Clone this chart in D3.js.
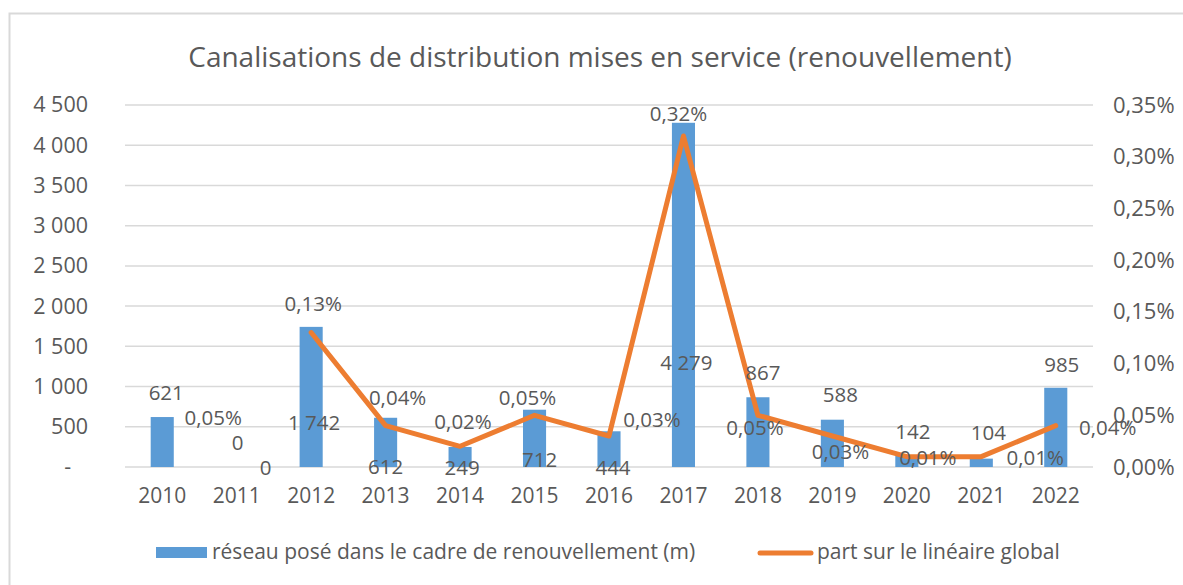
<!DOCTYPE html>
<html>
<head>
<meta charset="utf-8">
<script src="https://cdn.jsdelivr.net/npm/d3@7"></script>
<style>
  body { margin: 0; background: #fff; }
  svg text { font-family: "Open Sans", sans-serif; fill: #595959; }
</style>
</head>
<body>
<div id="chart"></div>
<script>
const years = ['2010', '2011', '2012', '2013', '2014', '2015', '2016', '2017', '2018', '2019', '2020', '2021', '2022'];
const networkLength = [621, 0, 1742, 612, 249, 712, 444, 4279, 867, 588, 142, 104, 985];
// part sur le linéaire global, in % (2010 and 2011 are not joined by the line)
const shareValues = [0.05, 0, 0.13, 0.04, 0.02, 0.05, 0.03, 0.32, 0.05, 0.03, 0.01, 0.01, 0.04];
const shareDrawn = [false, false, true, true, true, true, true, true, true, true, true, true, true];
const leftTicks = [0, 500, 1000, 1500, 2000, 2500, 3000, 3500, 4000, 4500];
const rightTicks = [0, 0.05, 0.10, 0.15, 0.20, 0.25, 0.30, 0.35];

const width = 1183, height = 585;
const margin = { top: 105, right: 90, bottom: 118, left: 125 };

const fr = d3.formatLocale({ decimal: ',', thousands: '\u00a0', grouping: [3], currency: ['', ' €'] });
const fmtInt = fr.format(',d');
const fmtPct = v => fr.format('.2f')(v) + '%';

const svg = d3.select('#chart').append('svg')
    .attr('width', width)
    .attr('height', height);

// outer frame
svg.append('rect')
    .attr('x', 9.5).attr('y', 13.5)
    .attr('width', width + 10).attr('height', height + 10)
    .attr('fill', 'none')
    .attr('stroke', '#d9d9d9')
    .attr('stroke-width', 2);

const x = d3.scaleBand()
    .domain(years)
    .range([margin.left, width - margin.right])
    .paddingInner(0.69)
    .paddingOuter(0.345);

const xc = d => x(d) + x.bandwidth() / 2;

const yLeft = d3.scaleLinear()
    .domain([0, 4500])
    .range([height - margin.bottom, margin.top]);

const yRight = d3.scaleLinear()
    .domain([0, 0.35])
    .range([height - margin.bottom, margin.top]);

// gridlines
svg.append('g')
    .selectAll('line')
    .data(leftTicks)
    .enter()
    .append('line')
    .attr('x1', margin.left)
    .attr('x2', width - margin.right)
    .attr('y1', d => yLeft(d))
    .attr('y2', d => yLeft(d))
    .attr('stroke', '#d9d9d9')
    .attr('stroke-width', 1.5);

// left axis
const leftAxis = svg.append('g')
    .attr('transform', `translate(${margin.left - 37},0)`)
    .call(d3.axisLeft(yLeft).tickValues(leftTicks).tickSize(0).tickPadding(0)
        .tickFormat(d => d === 0 ? '-\u00a0\u00a0\u00a0' : fmtInt(d)));
leftAxis.select('.domain').remove();
leftAxis.selectAll('text').attr('font-size', 21.5).attr('font-family', null).attr('fill', '#595959');

// right axis
const rightAxis = svg.append('g')
    .attr('transform', `translate(${width - margin.right + 20},0)`)
    .call(d3.axisRight(yRight).tickValues(rightTicks).tickSize(0).tickPadding(0)
        .tickFormat(fmtPct));
rightAxis.select('.domain').remove();
rightAxis.selectAll('text').attr('font-size', 22).attr('font-family', null).attr('fill', '#595959');

// bottom axis
const bottomAxis = svg.append('g')
    .attr('transform', `translate(0,${height - margin.bottom})`)
    .call(d3.axisBottom(x).tickSize(0).tickPadding(21));
bottomAxis.select('.domain').remove();
bottomAxis.selectAll('text').attr('font-size', 21).attr('font-family', null).attr('fill', '#595959');

// bars
svg.append('g')
    .selectAll('rect')
    .data(years)
    .enter()
    .append('rect')
    .attr('x', d => x(d))
    .attr('width', x.bandwidth())
    .attr('y', (d, i) => yLeft(networkLength[i]))
    .attr('height', (d, i) => yLeft(0) - yLeft(networkLength[i]))
    .attr('fill', '#5b9bd5');

// line
const line = d3.line()
    .defined((d, i) => shareDrawn[i])
    .x(d => xc(d))
    .y((d, i) => yRight(shareValues[i]));

svg.append('path')
    .attr('d', line(years))
    .attr('fill', 'none')
    .attr('stroke', '#ed7d31')
    .attr('stroke-width', 5)
    .attr('stroke-linejoin', 'round')
    .attr('stroke-linecap', 'round');

// data labels, offsets as placed in the original chart
const barLabelShift = [[4, -24], [1, -24], [3, 96], [0, 49], [2, 21], [5, 50], [4, 37],
    [3, 240], [5, -24], [8, -25], [6, -24], [7, -26], [6, -23]];
const lineLabelShift = [[51, 3], [29, 1], [2, -29], [12, -28], [3, -24], [-7, -17], [43, -16],
    [-5, -22], [-3, 13], [8, 16], [21, 1], [54, 1], [52, 2]];

svg.append('g')
    .selectAll('text')
    .data(years)
    .enter()
    .append('text')
    .attr('x', (d, i) => xc(d) + barLabelShift[i][0])
    .attr('y', (d, i) => yLeft(networkLength[i]) + barLabelShift[i][1])
    .attr('dy', '0.35em')
    .attr('text-anchor', 'middle')
    .attr('font-size', 20.5)
    .text((d, i) => fmtInt(networkLength[i]));

svg.append('g')
    .selectAll('text')
    .data(years)
    .enter()
    .append('text')
    .attr('x', (d, i) => xc(d) + lineLabelShift[i][0])
    .attr('y', (d, i) => yRight(shareValues[i]) + lineLabelShift[i][1])
    .attr('dy', '0.35em')
    .attr('text-anchor', 'middle')
    .attr('font-size', 20.5)
    .text((d, i) => shareValues[i] === 0 ? '0' : fmtPct(shareValues[i]));

// title
svg.append('text')
    .attr('x', 600)
    .attr('y', 57)
    .attr('dy', '0.35em')
    .attr('text-anchor', 'middle')
    .attr('font-size', 28)
    .text('Canalisations de distribution mises en service (renouvellement)');

// legend
const legend = svg.append('g');
legend.append('rect')
    .attr('x', 156).attr('y', 547)
    .attr('width', 51).attr('height', 11)
    .attr('fill', '#5b9bd5');
legend.append('text')
    .attr('x', 212).attr('y', 552)
    .attr('dy', '0.35em')
    .attr('font-size', 21)
    .text('réseau posé dans le cadre de renouvellement (m)');
legend.append('line')
    .attr('x1', 760).attr('x2', 811)
    .attr('y1', 553).attr('y2', 553)
    .attr('stroke', '#ed7d31')
    .attr('stroke-width', 5)
    .attr('stroke-linecap', 'round');
legend.append('text')
    .attr('x', 817).attr('y', 552)
    .attr('dy', '0.35em')
    .attr('font-size', 21)
    .text('part sur le linéaire global');
</script>
</body>
</html>
